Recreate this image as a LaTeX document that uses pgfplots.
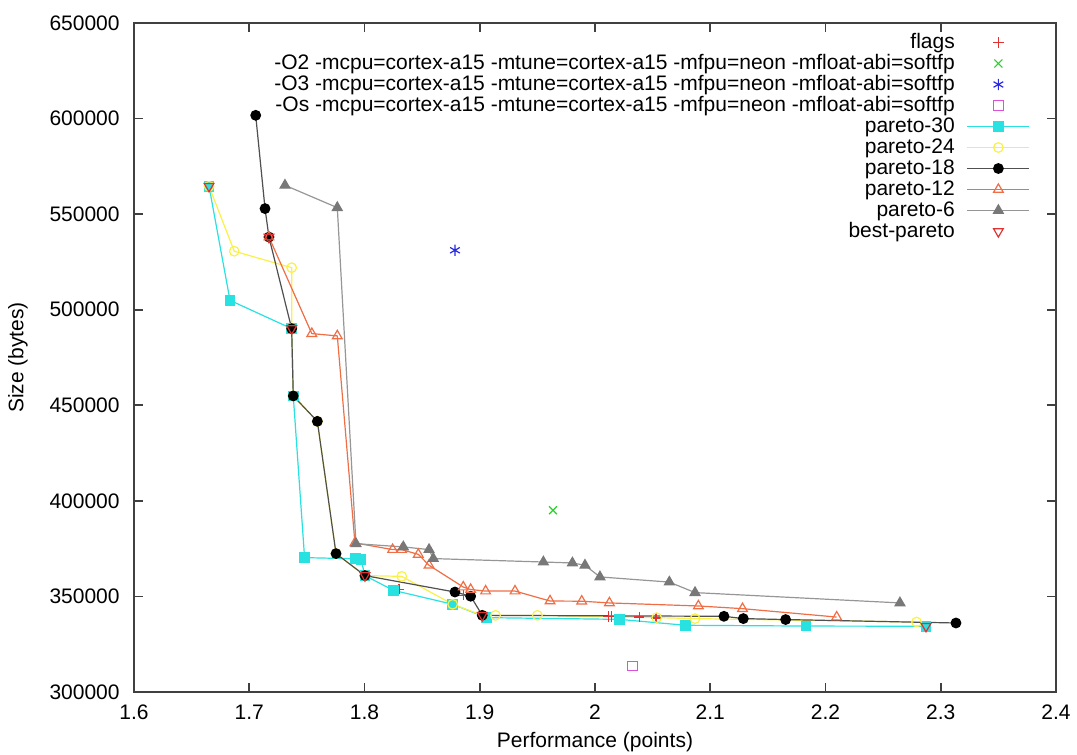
\documentclass[border=0pt]{standalone}
\usepackage{fontspec}
\setmainfont{Liberation Sans}
\usepackage{pgfplots}
\pgfplotsset{compat=1.18}
\definecolor{gcyan}{RGB}{40,225,225}
\definecolor{gyellow}{RGB}{250,240,70}
\definecolor{gcoral}{RGB}{240,110,70}
\definecolor{ggray}{RGB}{150,150,150}
\definecolor{gmark}{RGB}{120,120,120}
\definecolor{gdark}{RGB}{80,80,80}
\definecolor{gred}{RGB}{225,50,50}
\definecolor{ggreen}{RGB}{40,210,40}
\definecolor{gblue}{RGB}{40,40,230}
\definecolor{gmag}{RGB}{220,80,220}
\definecolor{axgray}{RGB}{64,64,64}
\newcommand{\ff}{\fontsize{10.5}{12}\selectfont}
\begin{document}
\begin{tikzpicture}
\begin{axis}[
  scale only axis, width=461pt, height=334.5pt,
  xmin=1.6, xmax=2.4, ymin=300000, ymax=650000,
  xtick={1.6,1.7,1.8,1.9,2,2.1,2.2,2.3,2.4},
  ytick={300000,350000,400000,450000,500000,550000,600000,650000},
  scaled y ticks=false, scaled x ticks=false,
  /pgf/number format/assume math mode=true,
  yticklabel style={/pgf/number format/fixed, /pgf/number format/1000 sep={}, font=\ff, anchor=east, inner sep=0pt, xshift=-7pt},
  xticklabel style={/pgf/number format/fixed, font=\ff, anchor=base, inner sep=0pt, yshift=-14pt},
  tick align=inside, major tick length=4.5pt,
  axis line style={axgray, line width=1pt},
  every tick/.style={axgray, line width=0.8pt},
  xtick pos=both, ytick pos=both,
  xlabel={Performance (points)}, ylabel={Size (bytes)},
  xlabel style={font=\ff, at={(axis description cs:0.5,0)}, anchor=base, yshift=-27.5pt},
  ylabel style={font=\ff, at={(axis description cs:-0.1258,0.5)}, anchor=center},
  legend plot pos=right,
  legend cell align=right,
  legend image code/.code={\draw[mark repeat=2,mark phase=2,#1] plot coordinates {(0pt,0pt) (15.5pt,0pt) (31pt,0pt)};},
  legend style={font=\ff, draw=none, fill=none, at={(axis description cs:1,1)}, anchor=north east, xshift=-13pt, yshift=-5pt, inner sep=0pt, outer sep=0pt, row sep=1pt, column sep=6pt, nodes={inner sep=0pt, text height=7.5pt, text depth=2pt}},
  every axis plot/.append style={line width=0.6pt, mark size=2.4pt},
]
% flags
\addplot[only marks, mark=+, gred, mark size=2.6pt] coordinates {
(1.830,353800) (1.886,350600) (2.0116,339500) (2.0145,339500) (2.0384,339200) (2.053,338700)
};
\addlegendentry{flags}
% -O2
\addplot[only marks, mark=x, ggreen, mark size=2.8pt] coordinates {(1.9636,395100)};
\addlegendentry{-O2 -mcpu=cortex-a15 -mtune=cortex-a15 -mfpu=neon -mfloat-abi=softfp}
% -O3
\addplot[only marks, mark=asterisk, gblue, mark size=2.8pt] coordinates {(1.8785,531100)};
\addlegendentry{-O3 -mcpu=cortex-a15 -mtune=cortex-a15 -mfpu=neon -mfloat-abi=softfp}
% -Os
\addplot[only marks, mark=square, gmag, mark size=2.4pt] coordinates {(2.0324,313600)};
\addlegendentry{-Os -mcpu=cortex-a15 -mtune=cortex-a15 -mfpu=neon -mfloat-abi=softfp}
% pareto-30
\addplot[gcyan, mark=square*, mark options={fill=gcyan, draw=gcyan}] coordinates {
(1.6651,564600) (1.6833,504900) (1.7368,490100) (1.7382,454900) (1.748,370300)
(1.792,369700) (1.797,369200) (1.8004,360900) (1.825,353200) (1.8765,345900)
(1.906,338900) (2.0211,338000) (2.0787,334900) (2.183,334500) (2.2872,334400)
};
\addlegendentry{pareto-30}
% pareto-24
\addplot[gyellow, mark=o] coordinates {
(1.6651,564600) (1.687,530600) (1.7368,522000) (1.7368,490100) (1.7382,454900)
(1.7591,441600) (1.7753,372400) (1.8004,360900) (1.8323,360500) (1.8765,345900)
(1.9022,340100) (1.9137,340100) (1.95,340100) (2.0535,338900) (2.0868,338400)
(2.279,336600)
};
\addlegendentry{pareto-24}
% pareto-18
\addplot[gdark, mark=*, mark options={fill=black, draw=black}] coordinates {
(1.7056,601700) (1.7137,552900) (1.7171,538000) (1.7368,490100) (1.7382,454900)
(1.7591,441600) (1.7753,372400) (1.8004,360900) (1.8785,352300) (1.8921,350100)
(1.9022,340100) (2.1119,339600) (2.1287,338400) (2.1654,337900) (2.3132,336100)
};
\addlegendentry{pareto-18}
% pareto-12
\addplot[gcoral, mark=triangle, mark size=2.8pt] coordinates {
(1.7171,538000) (1.7543,487500) (1.7764,486300) (1.7917,378000) (1.8244,374500)
(1.8322,374500) (1.8467,372000) (1.856,366300) (1.8857,354900) (1.8921,353600)
(1.9051,352800) (1.9306,352800) (1.961,347600) (1.9885,347500) (2.0125,346600)
(2.0897,345000) (2.128,343600) (2.2097,339200)
};
\addlegendentry{pareto-12}
% pareto-6
\addplot[ggray, mark=triangle*, mark size=2.8pt, mark options={fill=gmark, draw=gmark}] coordinates {
(1.731,565100) (1.7764,553400) (1.7926,377600) (1.8337,375900) (1.856,374500)
(1.8597,369800) (1.9552,368000) (1.9804,367500) (1.9913,366300) (2.0043,360200)
(2.0645,357500) (2.0868,352000) (2.2646,346600)
};
\addlegendentry{pareto-6}
% best-pareto
\addplot[only marks, gred, mark=triangle, mark size=2.8pt, mark options={rotate=180}] coordinates {
(1.6651,564600) (1.7171,538000) (1.7368,490100) (1.8004,360900) (1.9022,340100) (2.2872,334400)
};
\addlegendentry{best-pareto}
\end{axis}
\pgfresetboundingbox
\path[use as bounding box] (-67pt,-31.5pt) rectangle (471.5pt,346pt);
\end{tikzpicture}
\end{document}
